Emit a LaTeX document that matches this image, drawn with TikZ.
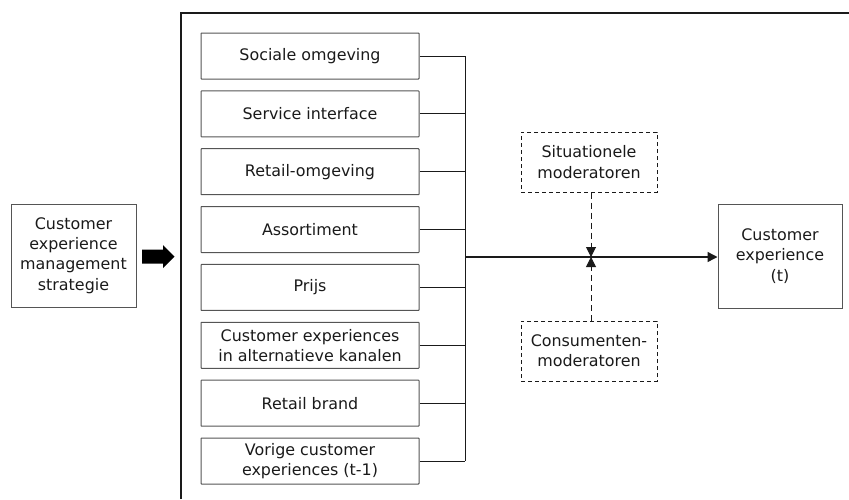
\documentclass[tikz,border=0pt]{standalone}
\usepackage{fontspec}
\setmainfont{DejaVu Sans}
\usetikzlibrary{arrows.meta}
\definecolor{ink}{HTML}{1A1A1A}
\definecolor{edge}{HTML}{555555}
\tikzset{
  every node/.style={text=ink, font=\fontsize{15.9}{20.3}\selectfont, align=center, inner sep=0pt},
  factor/.style={draw=edge, line width=1pt, rounded corners=0.6pt, minimum width=218pt, minimum height=46pt},
  solidbox/.style={draw=edge, line width=1pt},
  modbox/.style={draw=ink, line width=1pt, dash pattern=on 4pt off 3pt, minimum width=136pt, minimum height=60pt},
  bus/.style={draw=ink, line width=0.9pt},
  tip/.style={-{Triangle[length=10pt,width=10pt]}},
  modline/.style={draw=ink, line width=1pt, dash pattern=on 6pt off 4pt}
}
\begin{document}
\begin{tikzpicture}[x=1pt,y=-1pt]
\useasboundingbox (0,0) rectangle (849,499);

% outer frame (open at bottom and right)
\draw[line width=1.2pt, draw=ink] (181,499) -- (181,13) -- (849,13);

% strategy box and block arrow into the frame
\node[solidbox, minimum width=125pt, minimum height=103pt] (strat) at (73.5,255.5)
  {Customer\\experience\\management\\strategie};
\fill[black] (142,249.5) -- (163,249.5) -- (163,245) -- (174.5,256.5)
  -- (163,268) -- (163,263.5) -- (142,263.5) -- cycle;

% the eight factors
\foreach \nm/\txt [count=\k from 0] in {
  f1/{Sociale omgeving},
  f2/{Service interface},
  f3/{Retail-omgeving},
  f4/{Assortiment},
  f5/{Prijs},
  f6/{Customer experiences\\in alternatieve kanalen},
  f7/{Retail brand},
  f8/{Vorige customer\\experiences (t-1)}}
{
  \node[factor] (\nm) at (310, 56+57.86*\k) {\txt};
}

% collecting bus
\coordinate (busx) at (465,0);
\foreach \nm in {f1,f2,f3,f4,f5,f6,f7,f8}
  \draw[bus] (\nm.east) -- (\nm.east -| busx);
\draw[bus] (f1.east -| busx) -- (f8.east -| busx);

% outcome
\node[solidbox, minimum width=124pt, minimum height=104pt] (cx) at (780,256)
  {Customer\\experience\\(t)};
\coordinate (hub) at (465,257);
\draw[draw=ink, line width=1.4pt, tip] (hub) -- (hub -| cx.west);

% moderators
\node[modbox] (sit) at (589,162) {Situationele\\moderatoren};
\node[modbox] (con) at (589,351) {Consumenten-\\moderatoren};
\coordinate (meet) at (591,257);
\draw[modline, tip] (meet |- sit.south) -- (meet);
\draw[modline, tip] (meet |- con.north) -- (meet);
\end{tikzpicture}
\end{document}
